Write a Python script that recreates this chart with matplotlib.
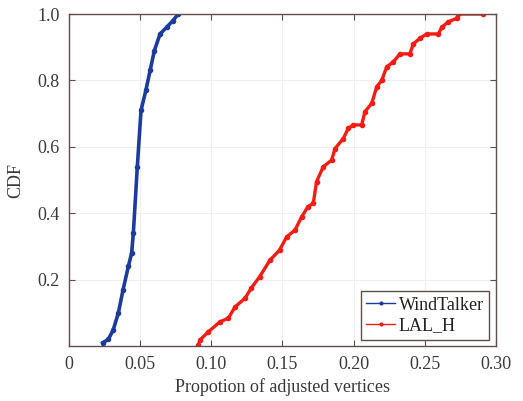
import matplotlib
matplotlib.use("Agg")
import matplotlib.pyplot as plt

# WindTalker CDF
wt_x = [0.0237, 0.0276, 0.031, 0.0347, 0.038, 0.0417, 0.044, 0.0452, 0.048,
        0.0506, 0.054, 0.057, 0.060, 0.064, 0.0686, 0.073, 0.0768]
wt_y = [0.01, 0.02, 0.048, 0.10, 0.17, 0.24, 0.28, 0.34, 0.54,
        0.71, 0.77, 0.83, 0.89, 0.94, 0.96, 0.98, 1.0]

# LAL_H CDF
lal_x = [0.0909, 0.092, 0.0979, 0.1061, 0.112, 0.1167, 0.1237, 0.128, 0.134,
         0.1413, 0.148, 0.153, 0.1588, 0.1635, 0.168, 0.1717, 0.174, 0.1787,
         0.1846, 0.187, 0.1928, 0.1963, 0.1999, 0.2057, 0.208, 0.2128, 0.2163,
         0.2198, 0.2233, 0.228, 0.2326, 0.2396, 0.242, 0.2467, 0.2514, 0.2596,
         0.262, 0.2667, 0.2726, 0.2737, 0.2913]
lal_y = [0.003, 0.018, 0.043, 0.073, 0.084, 0.118, 0.144, 0.174, 0.209,
         0.259, 0.289, 0.329, 0.349, 0.389, 0.42, 0.43, 0.495, 0.54,
         0.56, 0.595, 0.625, 0.656, 0.666, 0.666, 0.706, 0.731, 0.781,
         0.80, 0.841, 0.856, 0.88, 0.88, 0.91, 0.927, 0.94, 0.94,
         0.96, 0.977, 0.987, 1.0, 1.0]

x_ticks = [0, 0.05, 0.10, 0.15, 0.20, 0.25, 0.30]
x_labels = ['0', '0.05', '0.10', '0.15', '0.20', '0.25', '0.30']
y_ticks = [0.2, 0.4, 0.6, 0.8, 1.0]
y_labels = ['0.2', '0.4', '0.6', '0.8', '1.0']

plt.rcParams['font.family'] = ['Liberation Serif', 'DejaVu Serif']
text_col = '#3a3a3a'
frame_col = '#5e4f4a'

fig = plt.figure(figsize=(5.23, 4.01), dpi=100)
ax = fig.add_axes([0.132, 0.137, 0.816, 0.828])

ax.plot(wt_x, wt_y, color='#1c3b9e', marker='.', markersize=6, linewidth=2.6, label='WindTalker')
ax.plot(lal_x, lal_y, color='#f51c14', marker='.', markersize=6, linewidth=2.4, label='LAL_H')

ax.set_xlim(0, 0.30)
ax.set_ylim(0, 1.0)
ax.set_xticks(x_ticks)
ax.set_xticklabels(x_labels)
ax.set_yticks(y_ticks)
ax.set_yticklabels(y_labels)
ax.grid(True, color='#efefef', linewidth=0.8)
ax.tick_params(direction='in', top=True, right=True, labelsize=13, colors=frame_col,
               labelcolor=text_col, length=4, pad=7)
for s in ax.spines.values():
    s.set_color(frame_col)
    s.set_linewidth(1.0)

ax.set_xlabel('Propotion of adjusted vertices', fontsize=13, color=text_col, labelpad=4)
ax.set_ylabel('CDF', fontsize=13, color=text_col, labelpad=9)

leg = ax.legend(loc='lower right', fontsize=13, fancybox=False, framealpha=1,
                edgecolor=frame_col, handlelength=1.6, handletextpad=0.2,
                borderpad=0.3, labelspacing=0.2, borderaxespad=0.35)
for t in leg.get_texts():
    t.set_color('#222222')
for h in leg.get_lines():
    h.set_linewidth(1.0)
    h.set_markersize(4)

fig.savefig('out.png', dpi=100)
